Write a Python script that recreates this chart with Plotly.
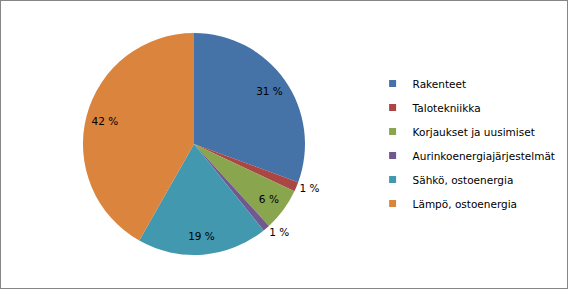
import plotly.graph_objects as go

categories = ["Rakenteet", "Talotekniikka", "Korjaukset ja uusimiset",
              "Aurinkoenergiajärjestelmät", "Sähkö, ostoenergia", "Lämpö, ostoenergia"]
values = [30.6, 1.4, 6.2, 1.0, 19.0, 41.8]
colors = ["#4572A7", "#AA4643", "#89A54E", "#71588F", "#4198AF", "#DB843D"]
label_positions = ["inside", "outside", "inside", "outside", "inside", "inside"]

total = sum(values)
texts = [f"{round(v / total * 100)} %" for v in values]

FONT = "DejaVu Sans"
DOMAIN = dict(x=[0.1, 0.583], y=[0.1176, 0.8858])

fig = go.Figure()
# the pie slices
fig.add_trace(go.Pie(
    labels=categories, values=values, textinfo="none",
    sort=False, direction="clockwise", rotation=0,
    marker=dict(colors=colors, line=dict(width=0)),
    showlegend=False, hoverinfo="label+percent",
    domain=DOMAIN,
))
# transparent ring carrying the data labels (places them near the rim)
fig.add_trace(go.Pie(
    labels=categories, values=values, text=texts, textinfo="text",
    textposition=label_positions, insidetextorientation="horizontal",
    sort=False, direction="clockwise", rotation=0, hole=0.66,
    marker=dict(colors=["rgba(0,0,0,0)"] * len(values), line=dict(width=0)),
    textfont=dict(family=FONT, size=10.5, color="#000000"),
    showlegend=False, hoverinfo="skip",
    domain=DOMAIN,
))

for name, col in zip(categories, colors):
    fig.add_trace(go.Scatter(
        x=[None], y=[None], mode="markers", name=name, legendgroup=name,
        marker=dict(symbol="square", size=7, color=col),
        showlegend=True,
    ))

fig.update_layout(
    width=568, height=289, margin=dict(l=0, r=0, t=0, b=0),
    paper_bgcolor="white", plot_bgcolor="white",
    xaxis=dict(visible=False), yaxis=dict(visible=False),
    legend=dict(x=0.656, y=0.5035, xanchor="left", yanchor="middle",
                tracegroupgap=5, font=dict(family=FONT, size=10.5, color="#000000"),
                bgcolor="rgba(0,0,0,0)"),
    shapes=[dict(type="rect", xref="paper", yref="paper", x0=0, y0=0, x1=1, y1=1,
                 line=dict(color="#868686", width=2), fillcolor="rgba(0,0,0,0)")],
)

fig.write_html("out.html")
